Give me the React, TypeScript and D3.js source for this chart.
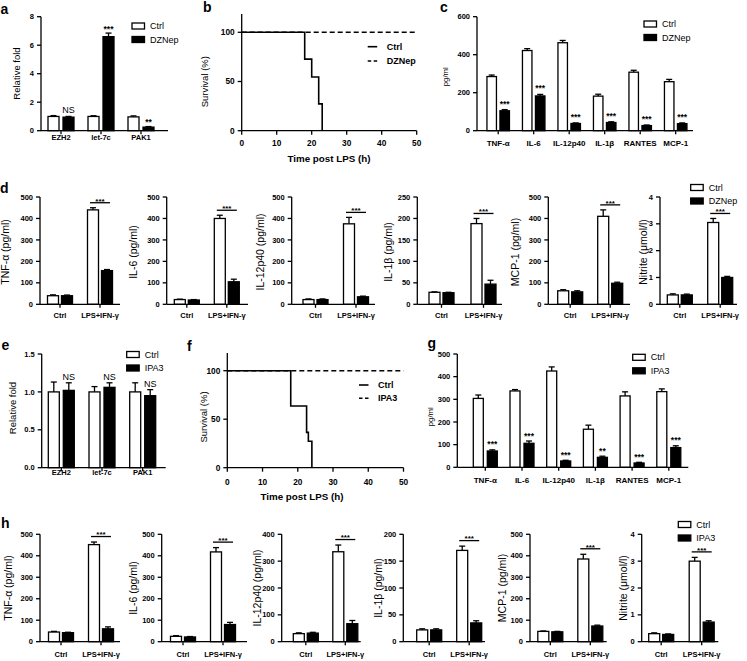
import React from "react";
import * as d3 from "d3";

// ---------------- data ----------------
const geneCats = ["EZH2", "let-7c", "PAK1"];
const aCtrlMean = [1.0, 1.0, 0.97];
const aCtrlErr = [0.06, 0.05, 0.07];
const aDZNepMean = [0.95, 6.6, 0.25];
const aDZNepErr = [0.05, 0.25, 0.04];
const aSig = ["NS", "***", "**"];
const aYTicks = [0, 2, 4, 6, 8];

const survXTicks = [0, 10, 20, 30, 40, 50];
const survYTicks = [0, 50, 100];
const bCtrlTime = [0, 18, 20, 22, 23];
const bCtrlSurv = [100, 72.7, 54.5, 27.3, 0];
const bDZNepTime = [0, 50];
const bDZNepSurv = [100, 100];

const cytoCats = ["TNF-α", "IL-6", "IL-12p40", "IL-1β", "RANTES", "MCP-1"];
const cCtrlMean = [285, 422, 463, 182, 308, 258];
const cCtrlErr = [8, 10, 12, 10, 10, 12];
const cDZNepMean = [105, 183, 38, 43, 27, 37];
const cDZNepErr = [6, 8, 3, 4, 3, 4];
const cSig = ["***", "***", "***", "***", "***", "***"];
const cYTicks = [0, 200, 400, 600];

const condCats = ["Ctrl", "LPS+IFN-γ"];
const mediatorTitles = ["TNF-α (pg/ml)", "IL-6 (pg/ml)", "IL-12p40 (pg/ml)", "IL-1β (pg/ml)", "MCP-1 (pg/ml)", "Nitrite (μmol/l)"];
const dYMax = [500, 500, 500, 250, 500, 4];
const dYStep = [100, 100, 100, 50, 100, 1];
const dCtrlMean = [[40, 440], [22, 400], [22, 375], [28, 188], [63, 410], [0.35, 3.05]];
const dCtrlErr = [[4, 10], [2, 15], [3, 30], [1, 12], [5, 30], [0.04, 0.15]];
const dDZNepMean = [[40, 157], [20, 105], [22, 35], [27, 47], [58, 98], [0.35, 1.0]];
const dDZNepErr = [[3, 5], [2, 12], [3, 3], [1, 9], [5, 5], [0.03, 0.04]];

const eCtrlMean = [1.0, 1.0, 1.0];
const eCtrlErr = [0.13, 0.07, 0.12];
const eIPA3Mean = [1.02, 1.06, 0.95];
const eIPA3Err = [0.1, 0.06, 0.08];
const eSig = ["NS", "NS", "NS"];
const eYTicks = [0, 0.5, 1.0, 1.5];

const fCtrlTime = [0, 18, 22.5, 23, 24];
const fCtrlSurv = [100, 63.6, 36.4, 27.3, 0];
const fIPA3Time = [0, 50];
const fIPA3Surv = [100, 100];

const gCtrlMean = [304, 337, 425, 168, 315, 334];
const gCtrlErr = [15, 6, 18, 18, 18, 12];
const gIPA3Mean = [72, 106, 28, 44, 19, 87];
const gIPA3Err = [5, 10, 3, 5, 3, 8];
const gSig = ["***", "***", "***", "**", "***", "***"];
const gYTicks = [0, 100, 200, 300, 400, 500];

const hYMax = [500, 500, 400, 200, 500, 4];
const hYStep = [100, 100, 100, 50, 100, 1];
const hCtrlMean = [[45, 452], [25, 418], [30, 335], [22, 170], [48, 385], [0.3, 3.0]];
const hCtrlErr = [[3, 12], [3, 20], [3, 25], [2, 8], [2, 22], [0.03, 0.14]];
const hIPA3Mean = [[42, 60], [22, 80], [32, 67], [22, 35], [46, 73], [0.27, 0.73]];
const hIPA3Err = [[2, 9], [2, 10], [3, 12], [2, 4], [2, 4], [0.02, 0.05]];

// ---------------- layout ----------------
const FONT = "'Liberation Sans', Arial, Helvetica, sans-serif";
const SW = 1.3;

const dLayout = [
  { axisX: 40, c0: 60, step: 40, xEnd: 120, titleX: 5.5 },
  { axisX: 166.7, c0: 186.8, step: 40, xEnd: 248, titleX: 133 },
  { axisX: 291.7, c0: 315.5, step: 40.5, xEnd: 375, titleX: 260.5 },
  { axisX: 417.3, c0: 441.5, step: 42, xEnd: 502, titleX: 388 },
  { axisX: 548.3, c0: 570.2, step: 40, xEnd: 630, titleX: 515.5 },
  { axisX: 660, c0: 679.8, step: 40.4, xEnd: 737, titleX: 643 },
];
const hLayout = [
  { axisX: 40, c0: 61, step: 40, xEnd: 120, titleX: 8 },
  { axisX: 161.7, c0: 183, step: 40, xEnd: 247, titleX: 133 },
  { axisX: 281.7, c0: 305.8, step: 39.5, xEnd: 360.7, titleX: 257 },
  { axisX: 403.3, c0: 429.2, step: 40, xEnd: 485, titleX: 378 },
  { axisX: 530, c0: 550.3, step: 40, xEnd: 606.7, titleX: 502 },
  { axisX: 641.7, c0: 661.2, step: 40.5, xEnd: 718.3, titleX: 623 },
];

type Series = { mean: number[]; err: number[]; fill: string };

type BarProps = {
  cats: string[];
  series: Series[];
  yMax: number;
  yTicks: number[];
  tickFmt?: (v: number) => string;
  axisX: number;
  yTop: number;
  yZero: number;
  c0: number;
  step: number;
  xEnd: number;
  barW: number;
  barSep: number;
  catY: number;
  catFont?: number;
  sig?: string[];
  sigMode?: "above" | "line";
  sigGap?: number;
  yTitle: string;
  titleX: number;
  titleY: number;
  titleFont?: number;
  titleWeight?: string;
};

function BarPanel(p: BarProps) {
  const y = d3.scaleLinear().domain([0, p.yMax]).range([p.yZero, p.yTop]);
  const x = d3
    .scaleBand<string>()
    .domain(p.cats)
    .range([p.c0 - p.step / 2, p.c0 - p.step / 2 + p.cats.length * p.step]);
  const cx = (c: string) => (x(c) as number) + x.bandwidth() / 2;
  const fmt = p.tickFmt || ((v: number) => String(v));
  const nS = p.series.length;
  const offs = p.series.map((_, i) => (i - (nS - 1) / 2) * p.barSep);
  const capW = 6;
  return (
    <g fontFamily={FONT}>
      {p.cats.map((c, ci) =>
        p.series.map((s, si) => {
          const bx = cx(c) + offs[si];
          const top = y(s.mean[ci]);
          const et = y(s.mean[ci] + s.err[ci]);
          return (
            <g key={c + si}>
              <line x1={bx} x2={bx} y1={top} y2={et} stroke="#000" strokeWidth={SW} />
              <line x1={bx - capW / 2} x2={bx + capW / 2} y1={et} y2={et} stroke="#000" strokeWidth={SW} />
              <rect
                x={bx - p.barW / 2}
                y={top}
                width={p.barW}
                height={p.yZero - top}
                fill={s.fill}
                stroke="#000"
                strokeWidth={SW}
              />
            </g>
          );
        })
      )}
      <line x1={p.axisX} x2={p.axisX} y1={p.yZero} y2={p.yTop} stroke="#000" strokeWidth={SW} />
      {p.yTicks.map((t) => (
        <g key={"yt" + t}>
          <line x1={p.axisX - 4} x2={p.axisX} y1={y(t)} y2={y(t)} stroke="#000" strokeWidth={SW} />
          <text x={p.axisX - 7} y={y(t)} dy="0.35em" textAnchor="end" fontSize={7.5} fontWeight="bold">
            {fmt(t)}
          </text>
        </g>
      ))}
      <line x1={p.axisX} x2={p.xEnd} y1={p.yZero} y2={p.yZero} stroke="#000" strokeWidth={SW} />
      {p.cats.map((c) => (
        <g key={"xt" + c}>
          <line x1={cx(c)} x2={cx(c)} y1={p.yZero} y2={p.yZero + 3.5} stroke="#000" strokeWidth={SW} />
          <text x={cx(c)} y={p.catY} textAnchor="middle" fontSize={p.catFont || 7.5} fontWeight="bold">
            {c}
          </text>
        </g>
      ))}
      {p.sig && p.sigMode === "above" &&
        p.cats.map((c, ci) => {
          const s = p.series[1];
          const et = y(s.mean[ci] + s.err[ci]);
          const isNS = p.sig![ci] === "NS";
          return (
            <text
              key={"sg" + c}
              x={cx(c) + offs[1]}
              y={isNS ? et - 3 : et - (p.sigGap ?? 1.5)}
              textAnchor="middle"
              fontSize={isNS ? 9 : 8.5}
              fontWeight={isNS ? "normal" : "bold"}
            >
              {p.sig![ci]}
            </text>
          );
        })}
      {p.sigMode === "line" && (() => {
        const ci = p.cats.length - 1;
        const c = p.cats[ci];
        const s0 = p.series[0];
        const ly = y(s0.mean[ci] + s0.err[ci]) - (p.sigGap ?? 5);
        const x1 = cx(c) + offs[0] - 3;
        const x2 = cx(c) + offs[1] + 3;
        return (
          <g>
            <line x1={x1} x2={x2} y1={ly} y2={ly} stroke="#000" strokeWidth={SW} />
            <text x={(x1 + x2) / 2} y={ly + 0.8} textAnchor="middle" fontSize={8} fontWeight="bold">
              ***
            </text>
          </g>
        );
      })()}
      <text
        transform={`translate(${p.titleX},${p.titleY}) rotate(-90)`}
        textAnchor="middle"
        dy="0.35em"
        fontSize={p.titleFont || 9.5}
        fontWeight={p.titleWeight || "normal"}
      >
        {p.yTitle}
      </text>
    </g>
  );
}

function BoxLegend({ x, y, labels }: { x: number; y: number; labels: string[] }) {
  return (
    <g fontFamily={FONT}>
      {labels.map((l, i) => (
        <g key={l}>
          <rect
            x={x}
            y={y + i * 13.5}
            width={12.5}
            height={6}
            fill={i === 0 ? "#fff" : "#000"}
            stroke="#000"
            strokeWidth={SW}
          />
          <text x={x + 18} y={y + i * 13.5 + 3} dy="0.35em" fontSize={9}>
            {l}
          </text>
        </g>
      ))}
    </g>
  );
}

function LineLegend({ x, y, labels, gap }: { x: number; y: number; labels: string[]; gap: number }) {
  return (
    <g fontFamily={FONT}>
      {labels.map((l, i) => (
        <g key={l}>
          <line
            x1={x}
            x2={x + 9.5}
            y1={y + i * gap}
            y2={y + i * gap}
            stroke="#000"
            strokeWidth={1.6}
            strokeDasharray={i === 1 ? "3.5,2.5" : undefined}
          />
          <text x={x + 19} y={y + i * gap} dy="0.35em" fontSize={9} fontWeight="bold">
            {l}
          </text>
        </g>
      ))}
    </g>
  );
}

type SurvProps = {
  axisX: number;
  xEnd: number;
  yZero: number;
  y100: number;
  yAxisTop: number;
  curves: { t: number[]; s: number[]; dashed: boolean }[];
  tickY: number;
  titleX: number;
  titleY: number;
  yTitleX: number;
  yTitleY: number;
};

function SurvPanel(p: SurvProps) {
  const x = d3.scaleLinear().domain([0, 50]).range([p.axisX, p.xEnd]);
  const y = d3.scaleLinear().domain([0, 100]).range([p.yZero, p.y100]);
  const line = d3
    .line<[number, number]>()
    .x((d) => x(d[0]))
    .y((d) => y(d[1]))
    .curve(d3.curveStepAfter);
  return (
    <g fontFamily={FONT}>
      {p.curves.map((c, i) => (
        <path
          key={i}
          d={line(c.t.map((t, j) => [t, c.s[j]] as [number, number])) || ""}
          fill="none"
          stroke="#000"
          strokeWidth={1.6}
          strokeDasharray={c.dashed ? "5,3" : undefined}
        />
      ))}
      <line x1={p.axisX} x2={p.axisX} y1={p.yZero} y2={p.yAxisTop} stroke="#000" strokeWidth={SW} />
      {survYTicks.map((t) => (
        <g key={"y" + t}>
          <line x1={p.axisX - 4} x2={p.axisX} y1={y(t)} y2={y(t)} stroke="#000" strokeWidth={SW} />
          <text x={p.axisX - 7} y={y(t)} dy="0.35em" textAnchor="end" fontSize={8.3} fontWeight="bold">
            {t}
          </text>
        </g>
      ))}
      <line x1={p.axisX} x2={p.xEnd} y1={p.yZero} y2={p.yZero} stroke="#000" strokeWidth={SW} />
      {survXTicks.map((t) => (
        <g key={"x" + t}>
          <line x1={x(t)} x2={x(t)} y1={p.yZero} y2={p.yZero + 4} stroke="#000" strokeWidth={SW} />
          <text x={x(t)} y={p.tickY} textAnchor="middle" fontSize={8.3} fontWeight="bold">
            {t}
          </text>
        </g>
      ))}
      <text x={p.titleX} y={p.titleY} textAnchor="middle" fontSize={9.8} fontWeight="bold">
        Time post LPS (h)
      </text>
      <text
        transform={`translate(${p.yTitleX},${p.yTitleY}) rotate(-90)`}
        textAnchor="middle"
        dy="0.35em"
        fontSize={9.5}
      >
        Survival (%)
      </text>
    </g>
  );
}

function PanelLetter({ x, y, l }: { x: number; y: number; l: string }) {
  return (
    <text x={x} y={y} fontFamily={FONT} fontWeight="bold" fontSize={14}>
      {l}
    </text>
  );
}

const ticks = (max: number, step: number) => d3.range(0, max + step / 2, step);
const fmtNum = (v: number) => String(v);

export default function App() {
  return (
    <svg width={747} height={661} style={{ position: "absolute", left: 0, top: 0, background: "#fff" }}>
      <rect x={0} y={0} width={747} height={661} fill="#fff" />
      {/* a */}
      <PanelLetter x={0.5} y={14} l="a" />
      <BarPanel
        cats={geneCats}
        series={[
          { mean: aCtrlMean, err: aCtrlErr, fill: "#fff" },
          { mean: aDZNepMean, err: aDZNepErr, fill: "#000" },
        ]}
        yMax={8}
        yTicks={aYTicks}
        axisX={41}
        yTop={16.7}
        yZero={130.7}
        c0={61}
        step={40}
        xEnd={168}
        barW={11}
        barSep={15}
        catY={140}
        sig={aSig}
        sigMode="above"
        sigGap={1.5}
        yTitle="Relative fold"
        titleX={17}
        titleY={73.5}
      />
      <BoxLegend x={132} y={23} labels={["Ctrl", "DZNep"]} />

      {/* b */}
      <PanelLetter x={203} y={12} l="b" />
      <SurvPanel
        axisX={241.7}
        xEnd={416.7}
        yZero={130.7}
        y100={32.3}
        yAxisTop={14}
        curves={[
          { t: bDZNepTime, s: bDZNepSurv, dashed: true },
          { t: bCtrlTime, s: bCtrlSurv, dashed: false },
        ]}
        tickY={146}
        titleX={329}
        titleY={161.5}
        yTitleX={205}
        yTitleY={81.7}
      />
      <LineLegend x={367.7} y={46.7} gap={14.3} labels={["Ctrl", "DZNep"]} />

      {/* c */}
      <PanelLetter x={440} y={12} l="c" />
      <BarPanel
        cats={cytoCats}
        series={[
          { mean: cCtrlMean, err: cCtrlErr, fill: "#fff" },
          { mean: cDZNepMean, err: cDZNepErr, fill: "#000" },
        ]}
        yMax={600}
        yTicks={cYTicks}
        axisX={477}
        yTop={16.7}
        yZero={130.7}
        c0={498.2}
        step={35.5}
        xEnd={693}
        barW={9.5}
        barSep={13}
        catY={146}
        catFont={8}
        sig={cSig}
        sigMode="above"
        sigGap={3}
        yTitle="pg/ml"
        titleX={445}
        titleY={76.7}
        titleFont={7.8}
      />
      <BoxLegend x={644} y={21} labels={["Ctrl", "DZNep"]} />

      {/* d */}
      <PanelLetter x={0} y={193} l="d" />
      {dLayout.map((L, i) => (
        <BarPanel
          key={"d" + i}
          cats={condCats}
          series={[
            { mean: dCtrlMean[i], err: dCtrlErr[i], fill: "#fff" },
            { mean: dDZNepMean[i], err: dDZNepErr[i], fill: "#000" },
          ]}
          yMax={dYMax[i]}
          yTicks={ticks(dYMax[i], dYStep[i])}
          tickFmt={fmtNum}
          axisX={L.axisX}
          yTop={197}
          yZero={304.3}
          c0={L.c0}
          step={L.step}
          xEnd={L.xEnd}
          barW={11}
          barSep={14}
          catY={318}
          sigMode="line"
          sigGap={5}
          yTitle={mediatorTitles[i]}
          titleX={L.titleX}
          titleY={252}
          titleFont={10.5}
        />
      ))}
      <BoxLegend x={690.7} y={184.5} labels={["Ctrl", "DZNep"]} />

      {/* e */}
      <PanelLetter x={1.5} y={350} l="e" />
      <BarPanel
        cats={geneCats}
        series={[
          { mean: eCtrlMean, err: eCtrlErr, fill: "#fff" },
          { mean: eIPA3Mean, err: eIPA3Err, fill: "#000" },
        ]}
        yMax={1.5}
        yTicks={eYTicks}
        tickFmt={(v) => v.toFixed(1)}
        axisX={41.7}
        yTop={354}
        yZero={467.7}
        c0={61.3}
        step={40.7}
        xEnd={165.7}
        barW={11}
        barSep={15}
        catY={474.5}
        sig={eSig}
        sigMode="above"
        yTitle="Relative fold"
        titleX={13}
        titleY={408}
      />
      <BoxLegend x={126.7} y={351.5} labels={["Ctrl", "IPA3"]} />

      {/* f */}
      <PanelLetter x={187} y={351} l="f" />
      <SurvPanel
        axisX={227.3}
        xEnd={403.5}
        yZero={467.7}
        y100={370.7}
        yAxisTop={353}
        curves={[
          { t: fIPA3Time, s: fIPA3Surv, dashed: true },
          { t: fCtrlTime, s: fCtrlSurv, dashed: false },
        ]}
        tickY={484.5}
        titleX={302}
        titleY={500}
        yTitleX={203.3}
        yTitleY={417}
      />
      <LineLegend x={359} y={385} gap={13.3} labels={["Ctrl", "IPA3"]} />

      {/* g */}
      <PanelLetter x={427.5} y={348} l="g" />
      <BarPanel
        cats={cytoCats}
        series={[
          { mean: gCtrlMean, err: gCtrlErr, fill: "#fff" },
          { mean: gIPA3Mean, err: gIPA3Err, fill: "#000" },
        ]}
        yMax={500}
        yTicks={gYTicks}
        axisX={457.3}
        yTop={354}
        yZero={467.3}
        c0={485.3}
        step={36.7}
        xEnd={688.3}
        barW={10}
        barSep={14}
        catY={483}
        catFont={8}
        sig={gSig}
        sigMode="above"
        sigGap={2.5}
        yTitle="pg/ml"
        titleX={430.7}
        titleY={416.7}
        titleFont={7.8}
      />
      <BoxLegend x={632.7} y={354.3} labels={["Ctrl", "IPA3"]} />

      {/* h */}
      <PanelLetter x={1} y={528} l="h" />
      {hLayout.map((L, i) => (
        <BarPanel
          key={"h" + i}
          cats={condCats}
          series={[
            { mean: hCtrlMean[i], err: hCtrlErr[i], fill: "#fff" },
            { mean: hIPA3Mean[i], err: hIPA3Err[i], fill: "#000" },
          ]}
          yMax={hYMax[i]}
          yTicks={ticks(hYMax[i], hYStep[i])}
          tickFmt={fmtNum}
          axisX={L.axisX}
          yTop={534.3}
          yZero={641.7}
          c0={L.c0}
          step={L.step}
          xEnd={L.xEnd}
          barW={11}
          barSep={14}
          catY={657}
          sigMode="line"
          sigGap={5.5}
          yTitle={mediatorTitles[i]}
          titleX={L.titleX}
          titleY={588}
          titleFont={10.5}
        />
      ))}
      <BoxLegend x={678.3} y={521.5} labels={["Ctrl", "IPA3"]} />
    </svg>
  );
}
